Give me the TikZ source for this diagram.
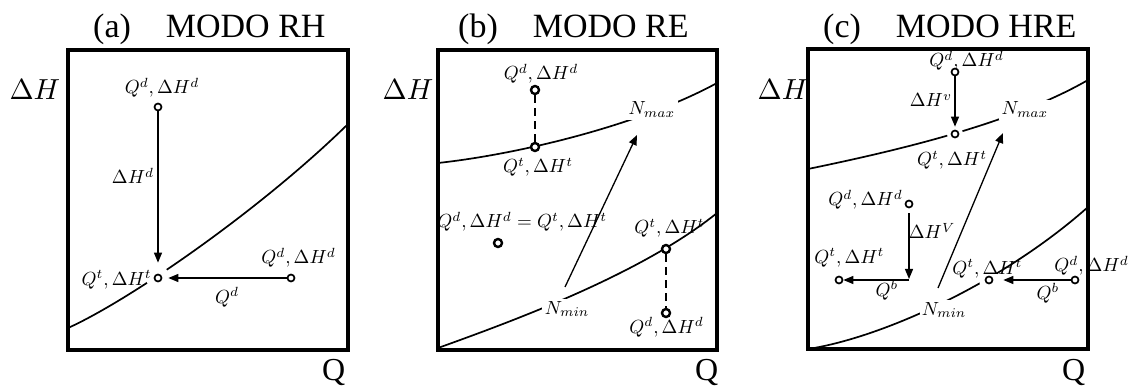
\documentclass[tikz,border=0pt]{standalone}
\usepackage{fontspec}
\setmainfont{Liberation Serif}
\usetikzlibrary{arrows.meta}
\begin{document}
\begin{tikzpicture}[x=1pt,y=-1pt,
 frame/.style={line width=3.2pt},
 crv/.style={line width=1.7pt},
 arr/.style={line width=1.3pt,-{Triangle[length=10pt,width=8pt]}},
 dsh/.style={line width=2.2pt,dash pattern=on 8pt off 5pt},
 pt/.style={circle,draw,fill=white,line width=1.7pt,inner sep=0pt,minimum size=7pt},
 ptb/.style={pt,line width=2.4pt,minimum size=8pt},
 lab/.style={scale=1.9,inner sep=0pt},
 mlab/.style={lab,fill=white,inner sep=1.2pt},
 ttl/.style={font=\fontsize{34}{40}\selectfont,inner sep=0pt,anchor=base west},
 axl/.style={scale=2.9,inner sep=0pt,anchor=base west},
 qlab/.style={font=\fontsize{32}{36}\selectfont,inner sep=0pt,anchor=base west},
]
\useasboundingbox (0,0) rectangle (1129,387);

% ---------------- panel (a)
\node[ttl] (ta) at (93,38) {(a)\hspace{35pt}MODO RH};
\node[axl] (ha) at (9,100) {$\Delta H$};
\node[qlab] (qa) at (322,380) {Q};
\draw[crv] (68,328) .. controls (130,300) and (260,210) .. (347,125);
\fill[white] (158,278) circle (12pt);
\draw[frame] (68,50) rectangle (348,350);
\node[pt] (a1) at (158,107) {};
\node[pt] (a2) at (158,278) {};
\node[pt] (a3) at (291,278) {};
\draw[arr,shorten >=11pt] (a1) -- (a2);
\draw[arr,shorten >=6pt] (a3) -- (a2);
\node[lab,anchor=base] (la1) at (162,94) {$Q^d,\Delta H^d$};
\node[lab,anchor=base] (la2) at (133,184) {$\Delta H^d$};
\node[lab,anchor=base east] (la3) at (152,285) {$Q^t,\Delta H^t$};
\node[lab,anchor=base west] (la4) at (261,264) {$Q^d,\Delta H^d$};
\node[lab,anchor=base] (la5) at (227,303) {$Q^d$};

% ---------------- panel (b)
\node[ttl] (tb) at (458,38) {(b)\hspace{35pt}MODO RE};
\node[axl] (hb) at (382,100) {$\Delta H$};
\node[qlab] (qb) at (695,380) {Q};
\draw[crv] (438,163) .. controls (520,154) and (640,125) .. (717,83);
\draw[crv] (438,348) .. controls (510,322) and (640,275) .. (717,213);
\node[mlab,anchor=base] (nmaxb) at (652,115) {$N_{max}$};
\node[mlab,anchor=base] (nminb) at (567,314) {$N_{min}$};
\draw[frame] (438,50) rectangle (717,350);
\node[ptb] (b1) at (535,90) {};
\node[ptb] (b2) at (535,147) {};
\node[ptb] (b3) at (498,243) {};
\node[ptb] (b4) at (666,249) {};
\node[ptb] (b5) at (666,313) {};
\draw[dsh] (b1) -- (b2);
\draw[dsh] (b4) -- (b5);
\coordinate (bs) at (565,287);
\coordinate (be) at (637,135);
\draw[arr] (bs) -- (be);
\node[lab,anchor=base] (lb1) at (541,80) {$Q^d,\Delta H^d$};
\node[lab,anchor=base] (lb2) at (538,173) {$Q^t,\Delta H^t$};
\node[lab,anchor=base west] (lb3) at (437,228) {$Q^d,\Delta H^d=Q^t,\Delta H^t$};
\node[lab,anchor=base west] (lb4) at (634,234) {$Q^t,\Delta H^t$};
\node[lab,anchor=base west] (lb5) at (629,333) {$Q^d,\Delta H^d$};

% ---------------- panel (c)
\node[ttl] (tc) at (823,38) {(c)\hspace{35pt}MODO HRE};
\node[axl] (hc) at (757,100) {$\Delta H$};
\node[qlab] (qc) at (1062,380) {Q};
\draw[crv] (808,169) .. controls (890,152) and (1010,125) .. (1088,80);
\draw[crv] (808,349) .. controls (880,338) and (1000,285) .. (1088,207);
\fill[white] (955,134) circle (8pt);
\fill[white] (989,280) circle (10pt);
\node[mlab,anchor=base] (nmaxc) at (1025,115) {$N_{max}$};
\node[mlab,anchor=base] (nminc) at (944,315) {$N_{min}$};
\draw[frame] (808,49) rectangle (1088,349);
\node[lab,anchor=base west] (lc1) at (929,67) {$Q^d,\Delta H^d$};
\node[pt] (c1) at (955,72) {};
\node[pt] (c2) at (955,134) {};
\node[pt] (c3) at (909,204) {};
\node[pt] (c4) at (839,280) {};
\coordinate (c5) at (909,280);
\node[pt] (c6) at (989,280) {};
\node[pt] (c7) at (1075,280) {};
\draw[arr,shorten >=3pt] (c1) -- (c2);
\draw[arr,shorten <=5pt,shorten >=1pt] (c3) -- (c5);
\draw[arr] (c5) -- (c4);
\draw[arr,shorten >=10pt] (c7) -- (c6);
\coordinate (cs) at (938,288);
\coordinate (ce) at (1003,133);
\draw[arr] (cs) -- (ce);
\node[lab,anchor=base] (lc2) at (931,107) {$\Delta H^v$};
\node[lab,anchor=base] (lc3) at (952,166) {$Q^t,\Delta H^t$};
\node[lab,anchor=base east] (lc4) at (903,206) {$Q^d,\Delta H^d$};
\node[lab,anchor=base] (lc5) at (932,239) {$\Delta H^V$};
\node[lab,anchor=base west] (lc6) at (814,263) {$Q^t,\Delta H^t$};
\node[lab,anchor=base] (lc7) at (887,296) {$Q^b$};
\node[lab,anchor=base west] (lc8) at (952,274) {$Q^t,\Delta H^t$};
\node[lab,anchor=base west] (lc9) at (1054,272) {$Q^d,\Delta H^d$};
\node[lab,anchor=base] (lc10) at (1048,299) {$Q^b$};
\end{tikzpicture}
\end{document}
